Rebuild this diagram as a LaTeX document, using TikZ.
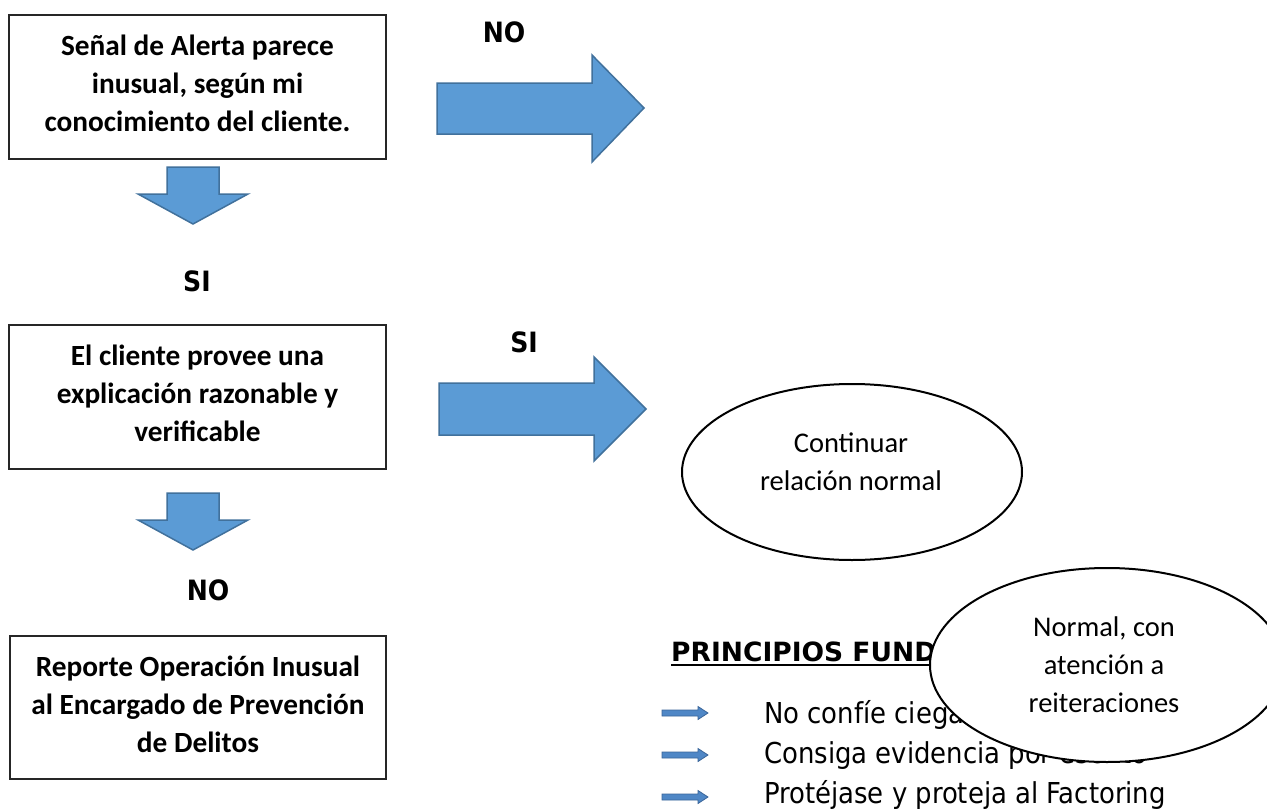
\documentclass[tikz,border=0pt]{standalone}
\usepackage{fontspec}
\newfontfamily\calfont{Carlito}
\newfontfamily\tahfont{DejaVu Sans Condensed}
\newfontfamily\verdfont{DejaVu Sans}
\usetikzlibrary{calc,shapes.geometric}
\definecolor{arrfill}{HTML}{5B9BD5}
\definecolor{arrline}{HTML}{41719C}
\definecolor{smallfill}{HTML}{4F87C6}
\definecolor{smallline}{HTML}{3A6599}
\begin{document}
\begin{tikzpicture}[x=1pt,y=1pt,
  blockarrow/.style={fill=arrfill,draw=arrline,line width=1.5,line join=miter},
  smallarrow/.style={fill=smallfill,draw=smallline,line width=0.8,line join=miter},
  flowbox/.style={draw=black!85,line width=1.3,rectangle,inner sep=0},
  boxtext/.style={font=\calfont\bfseries\fontsize{29.3}{38}\selectfont,align=center,inner sep=0},
  flowlabel/.style={font=\tahfont\bfseries\fontsize{28}{34}\selectfont,inner sep=0},
  oval/.style={ellipse,draw=black,line width=2,fill=white,inner sep=0},
  ovaltext/.style={font=\calfont\fontsize{28.5}{38}\selectfont,align=center,inner sep=0},
  listtext/.style={font=\tahfont\fontsize{28.8}{34}\selectfont,inner sep=0,anchor=base west},
  headtext/.style={font=\verdfont\bfseries\fontsize{26.5}{30}\selectfont,inner sep=0,anchor=base west}]
\fill[white] (0,0) rectangle (1267,-811);
\useasboundingbox (0,0) rectangle (1267,-811);

% boxes
\node[flowbox,minimum width=377,minimum height=144] (b1) at (197.5,-87) {};
\node[boxtext] (t1) at (197.5,-83.5) {Señal de Alerta parece\\inusual, según mi\\conocimiento del cliente.};
\node[flowbox,minimum width=377,minimum height=144] (b2) at (197.5,-397) {};
\node[boxtext] (t2) at (197.5,-393.5) {El cliente provee una\\explicación razonable y\\verificable};
\node[flowbox,minimum width=376,minimum height=143] (b3) at (198,-707.5) {};
\node[boxtext] (t3) at (198,-704) {Reporte Operación Inusual\\al Encargado de Prevención\\de Delitos};

% block arrows
\draw[blockarrow] (437,-83) -- (592,-83) -- (592,-55) -- (644,-108) -- (592,-162) -- (592,-134) -- (437,-134) -- cycle;
\draw[blockarrow] (439,-383) -- (594,-383) -- (594,-357) -- (646,-409) -- (594,-461) -- (594,-435) -- (439,-435) -- cycle;
\draw[blockarrow] (167,-167) -- (219,-167) -- (219,-194) -- (248,-194) -- (193,-224) -- (138,-194) -- (167,-194) -- cycle;
\draw[blockarrow] (167,-493) -- (219,-493) -- (219,-520) -- (248,-520) -- (193,-550) -- (138,-520) -- (167,-520) -- cycle;

% labels
\node[flowlabel] (l1) at (504,-32) {NO};
\node[flowlabel] (l2) at (197,-281) {SI};
\node[flowlabel] (l3) at (524,-342) {SI};
\node[flowlabel] (l4) at (208,-590) {NO};

% ellipse 1
\node[oval,minimum width=340,minimum height=176] (e1) at (852,-472) {};
\node[ovaltext] (e1t) at (851,-461.5) {Continuar\\relación normal};

% principles
\node[headtext] (hdr) at (671,-661) {PRINCIPIOS FUNDAMENTALES};
\draw[line width=2] ($(hdr.base west)+(0,-3.5)$) -- ($(hdr.base east)+(0,-3.5)$);
\node[listtext] (p1) at (764,-723) {No confíe ciegamente};
\node[listtext] (p2) at (764,-763) {Consiga evidencia por escrito};
\node[listtext] (p3) at (764,-803) {Protéjase y proteja al Factoring};
\foreach \yy in {713,755,797}{
  \draw[smallarrow] (662,-\yy+3) -- (698,-\yy+3) -- (698,-\yy+6.5) -- (708,-\yy) -- (698,-\yy-6.5) -- (698,-\yy-3) -- (662,-\yy-3) -- cycle;
}

% ellipse 2
\node[oval,minimum width=354,minimum height=194] (e2) at (1107,-665) {};
\node[ovaltext] (e2t) at (1104,-665) {Normal, con\\atención a\\reiteraciones};
\end{tikzpicture}
\end{document}
